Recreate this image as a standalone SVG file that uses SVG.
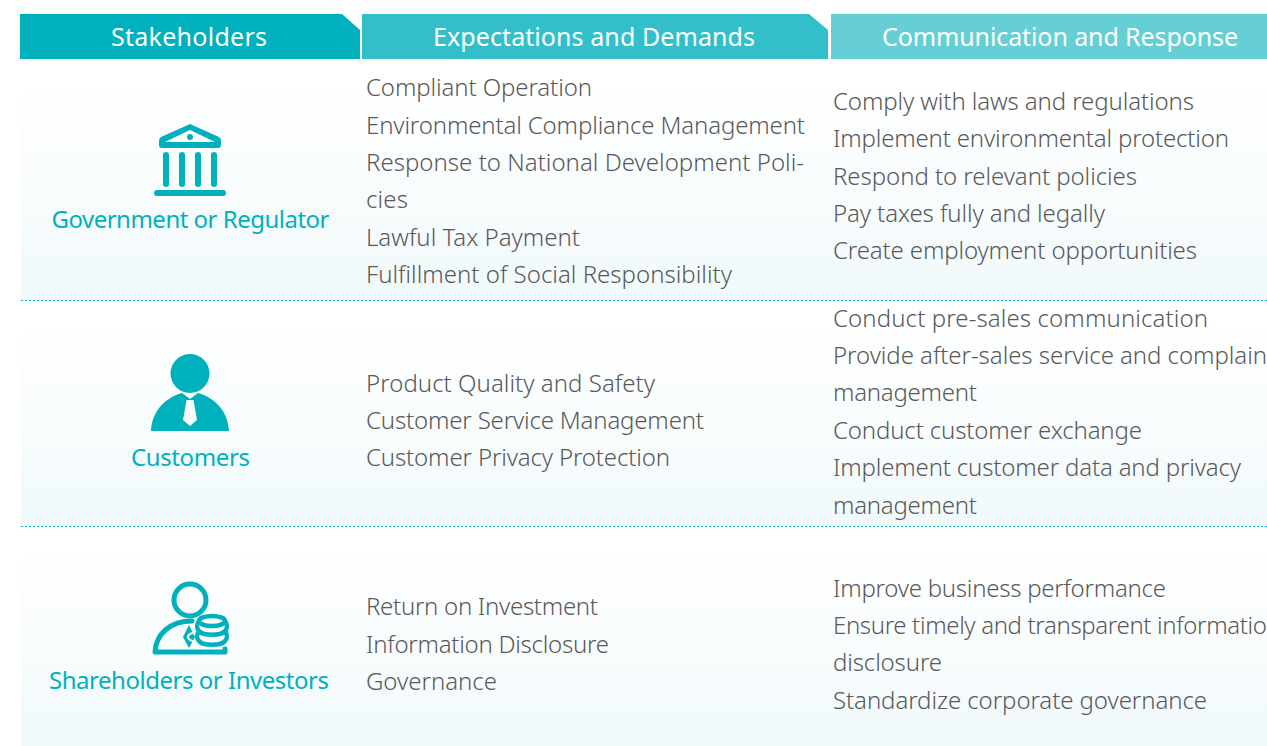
<svg xmlns="http://www.w3.org/2000/svg" width="1267" height="746" viewBox="0 0 1267 746">
<style>
text{font-family:"Noto Sans","Open Sans","Liberation Sans",sans-serif}
.h{font-size:25px;fill:#fff;text-anchor:middle}
.b{font-size:24px;fill:#595959;font-weight:300}
.l{font-size:24px;fill:#00b1bd;text-anchor:middle;font-weight:400}
.i{fill:#00b1bd}
.s{fill:none;stroke:#00b1bd;stroke-linecap:round;stroke-linejoin:round}
.d{stroke:#00b9c6;stroke-width:1.2;stroke-dasharray:2 2;fill:none}
</style>
<defs>
<linearGradient id="g" x1="0" y1="0" x2="0" y2="1"><stop offset="0.1" stop-color="#fff"/><stop offset="1" stop-color="#f1f9fb"/></linearGradient>
</defs>
<g id="backgrounds">
<rect x="21" y="60" width="1246" height="240" fill="url(#g)"/>
<rect x="21" y="301" width="1246" height="225" fill="url(#g)"/>
<rect x="21" y="527" width="1246" height="219" fill="url(#g)"/>
</g>
<g id="connectors">
<path class="d" d="M21 300.500H1267"/>
<path class="d" d="M21 526.500H1267"/>
</g>
<g id="header-stakeholders">
<path d="M20 14H342L360 30V59H20Z" fill="#00b1bd"/>
<text class="h" x="189" y="46" textLength="156" lengthAdjust="spacing">Stakeholders</text>
</g>
<g id="header-expectations">
<path d="M362 14H809L828 30V59H362Z" fill="#33bfca"/>
<text class="h" x="594" y="46" textLength="322" lengthAdjust="spacing">Expectations and Demands</text>
</g>
<g id="header-communication">
<rect x="831" y="14" width="436" height="45" fill="#66cfd6"/>
<text class="h" x="1060" y="46" textLength="356" lengthAdjust="spacing">Communication and Response</text>
</g>
<g id="government">
<path class="i" d="M190 124L219 137Q221 138 221 141V145Q221 148 218 148H162Q159 148 159 145V141Q159 138 161 137ZM190 130L165 142H215Z" fill-rule="evenodd"/>
<circle class="i" cx="190" cy="137" r="3"/>
<path class="s" stroke-width="6" d="M166 155V184M182 155V184M198 155V184M214 155V184"/>
<path class="s" stroke-width="6" d="M157 193H223"/>
<text class="l" x="190.500" y="228" textLength="278" lengthAdjust="spacing">Government or Regulator</text>
</g>
<g id="customers">
<circle class="i" cx="190" cy="373.500" r="19.500"/>
<path class="i" fill-rule="evenodd" d="M151 431C152 412 164 398 182 393L190 399L198 393C216 398 228 412 229 431ZM186.500 400L183 420L190 426L197 420L193.500 400Z"/>
<text class="l" x="190.500" y="466" textLength="119" lengthAdjust="spacing">Customers</text>
</g>
<g id="shareholders">
<circle class="s" stroke-width="5" cx="190" cy="600" r="16"/>
<path class="s" stroke-width="5" d="M192 621C170 621 156 634 155 652H225V649"/>
<path class="i" d="M189 625L195 637L189 648L183 637Z"/>
<path d="M194 632.500Q188 634 188 637T194 641.500" fill="none" stroke="#fff" stroke-width="2"/>
<g class="s" stroke-width="4.500">
<ellipse cx="212" cy="621" rx="13" ry="5"/>
<path d="M199 621C196 625 197 629 199 631C196 635 197 639 199 641C203 646 221 646 225 641C227 639 228 635 225 631C227 629 228 625 225 621M199 631C203 636 221 636 225 631"/>
</g>
<text class="l" x="189" y="689" textLength="280" lengthAdjust="spacing">Shareholders or Investors</text>
</g>
<g id="expectations-text">
<text class="b" x="366" y="96" textLength="226">Compliant Operation</text>
<text class="b" x="366" y="134" textLength="439">Environmental Compliance Management</text>
<text class="b" x="366" y="171" textLength="438">Response to National Development Poli-</text>
<text class="b" x="366" y="208" textLength="42">cies</text>
<text class="b" x="366" y="246" textLength="214">Lawful Tax Payment</text>
<text class="b" x="366" y="283" textLength="366">Fulfillment of Social Responsibility</text>
<text class="b" x="366" y="392" textLength="289">Product Quality and Safety</text>
<text class="b" x="366" y="429" textLength="338">Customer Service Management</text>
<text class="b" x="366" y="466" textLength="304">Customer Privacy Protection</text>
<text class="b" x="366" y="615" textLength="232">Return on Investment</text>
<text class="b" x="366" y="653" textLength="243">Information Disclosure</text>
<text class="b" x="366" y="690" textLength="131">Governance</text>
</g>
<g id="responses-text">
<text class="b" x="833" y="110" textLength="361">Comply with laws and regulations</text>
<text class="b" x="833" y="147" textLength="396">Implement environmental protection</text>
<text class="b" x="833" y="185" textLength="304">Respond to relevant policies</text>
<text class="b" x="833" y="222" textLength="272">Pay taxes fully and legally</text>
<text class="b" x="833" y="259" textLength="364">Create employment opportunities</text>
<text class="b" x="833" y="327" textLength="375">Conduct pre-sales communication</text>
<text class="b" x="833" y="364" textLength="434">Provide after-sales service and complain</text>
<text class="b" x="833" y="401" textLength="144">management</text>
<text class="b" x="833" y="439" textLength="309">Conduct customer exchange</text>
<text class="b" x="833" y="476" textLength="408">Implement customer data and privacy</text>
<text class="b" x="833" y="514" textLength="144">management</text>
<text class="b" x="833" y="597" textLength="333">Improve business performance</text>
<text class="b" x="833" y="634" textLength="434">Ensure timely and transparent informatio</text>
<text class="b" x="833" y="671" textLength="109">disclosure</text>
<text class="b" x="833" y="709" textLength="374">Standardize corporate governance</text>
</g>
</svg>
